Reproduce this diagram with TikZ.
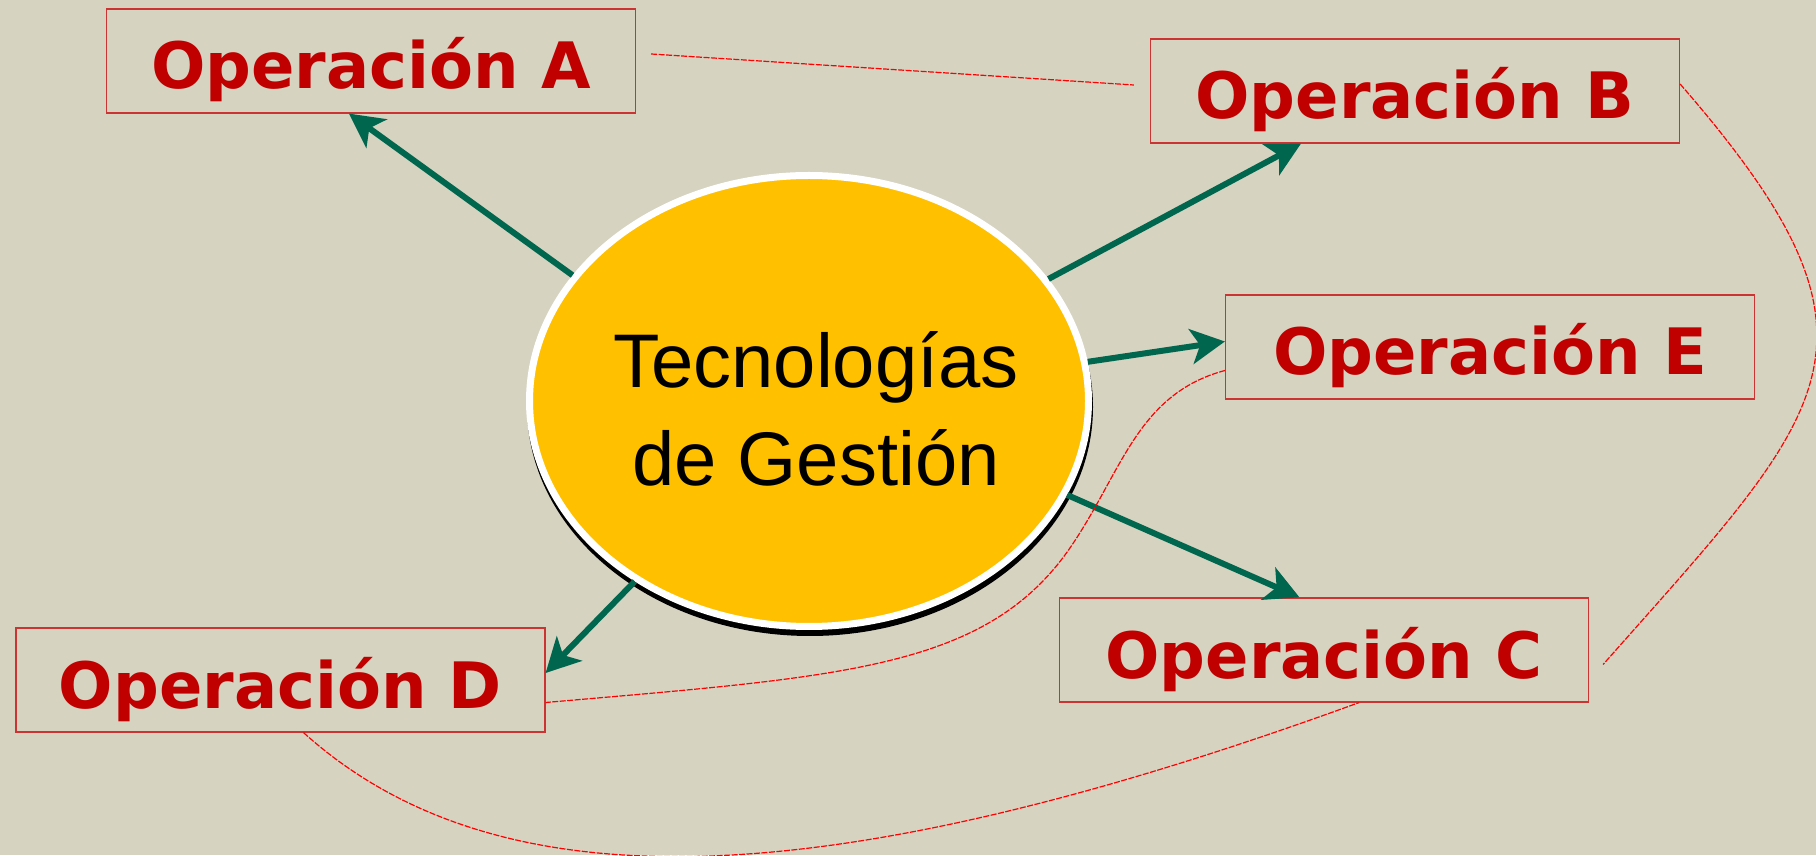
\documentclass[tikz,border=0pt]{standalone}
\usepackage{fontspec}
\setmainfont{Liberation Sans}
\newfontfamily\opfont{DejaVu Sans}
\usetikzlibrary{arrows.meta,shapes.geometric}
\definecolor{fondo}{RGB}{214,211,193}
\definecolor{amarillo}{RGB}{255,192,0}
\definecolor{verde}{RGB}{0,102,78}
\definecolor{rojo}{RGB}{192,0,0}
\definecolor{borde}{RGB}{204,51,51}
\tikzset{
  opbox/.style={draw=borde, line width=1.2pt, minimum width=529pt, minimum height=104pt,
    inner sep=0pt, text height=56pt, text depth=0pt, text=rojo,
    font=\opfont\bfseries\fontsize{64}{64}\selectfont},
  flecha/.style={draw=verde, line width=6pt, -{Stealth[length=34pt,width=35pt,inset=9pt]}},
  enlace/.style={draw=red, line width=1.2pt, dash pattern=on 6pt off 1.5pt},
}
\begin{document}
\begin{tikzpicture}[x=1pt,y=1pt]
	\fill[fondo] (0,0) rectangle (1816,855);
	\useasboundingbox (0,0) rectangle (1816,855);

	% sombra y elipse
	\fill[black] (810,448) ellipse (283 and 229);
	\node[ellipse, fill=amarillo, draw=white, line width=7pt, inner sep=0pt,
	  minimum width=559pt, minimum height=451pt] (tec) at (809,454) {};
	\node[align=center, font=\fontsize{76}{98}\selectfont] (tecTexto) at (816,446)
	  {Tecnologías\\de Gestión};

	% operaciones
	\node[opbox] (opA) at (371,794) {Operación A};
	\node[opbox] (opB) at (1415,764) {Operación B};
	\node[opbox] (opE) at (1490,508) {Operación E};
	\node[opbox] (opC) at (1324,205) {Operación C};
	\node[opbox] (opD) at (280.5,175) {Operación D};

	% flechas
	\draw[flecha] (tec.152.4) -- ([xshift=-22pt]opA.south);
	\draw[flecha] (tec.27) -- ([xshift=-114pt]opB.south);
	\draw[flecha] (tec.8.9) -- ([yshift=5.5pt]opE.west);
	\draw[flecha] (tec.-20.5) -- ([xshift=-24.5pt]opC.north);
	\draw[flecha] (tec.226.3) -- ([yshift=7pt]opD.east);

	% enlaces A - B, B - C
	\draw[enlace] ([shift={(15pt,7pt)}]opA.east) -- ([shift={(-16pt,6pt)}]opB.west);
	\draw[enlace] ([yshift=7pt]opB.east) .. controls +(-49:345) and +(48.5:345) .. ([shift={(14pt,-14.5pt)}]opC.east);

	% enlace E - D
	\coordinate (codo) at (1072,310);
	\draw[enlace] ([yshift=-23.5pt]opE.west) .. controls +(195:90) and +(56:90) .. (codo)
	  .. controls +(236:150) and +(5:300) .. ([yshift=-22.5pt]opD.east);

	% enlace D - C
	\draw[enlace] ([xshift=23pt]opD.south) .. controls +(-42:270) and +(200:550) .. ([xshift=35pt]opC.south);

\end{tikzpicture}
\end{document}
